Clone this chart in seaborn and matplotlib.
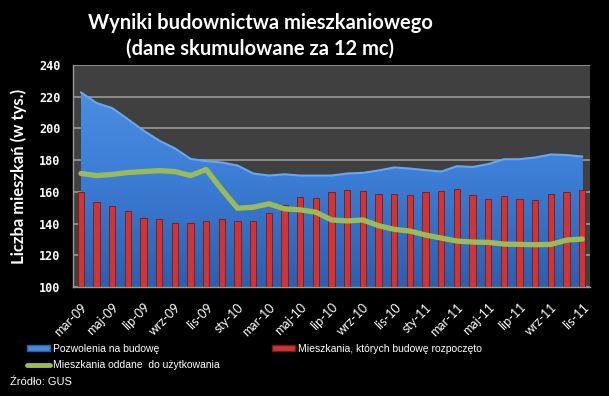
import matplotlib
matplotlib.use("Agg")
import matplotlib.pyplot as plt
import numpy as np
import seaborn as sns
from matplotlib.colors import LinearSegmentedColormap
from matplotlib.lines import Line2D
from matplotlib.patches import Patch

months = [
    "mar-09", "kwi-09", "maj-09", "cze-09", "lip-09", "sie-09", "wrz-09", "paź-09", "lis-09", "gru-09",
    "sty-10", "lut-10", "mar-10", "kwi-10", "maj-10", "cze-10", "lip-10", "sie-10", "wrz-10", "paź-10",
    "lis-10", "gru-10", "sty-11", "lut-11", "mar-11", "kwi-11", "maj-11", "cze-11", "lip-11", "sie-11",
    "wrz-11", "paź-11", "lis-11",
]

# building permits (tys.)
permits = [222.7, 216.0, 212.8, 205.8, 198.6, 192.3, 187.4, 180.8, 179.4, 178.5,
           176.6, 171.6, 170.3, 171.1, 170.3, 170.3, 170.3, 171.6, 172.0, 173.5,
           175.4, 174.7, 173.7, 172.8, 176.2, 175.7, 177.5, 180.6, 180.6, 181.7,
           183.6, 183.2, 182.3]

# dwellings started
starts = [160.0, 153.5, 151.0, 148.0, 143.6, 143.0, 140.4, 140.4, 141.7, 143.0,
          141.7, 141.7, 146.8, 151.9, 157.0, 156.3, 160.0, 161.4, 160.7, 158.6,
          158.8, 158.2, 160.0, 160.7, 162.0, 158.2, 155.7, 157.6, 155.7, 154.8,
          158.6, 160.0, 161.4]

# dwellings completed
completions = [171.6, 170.3, 171.0, 172.2, 172.8, 173.4, 172.8, 170.3, 174.1, 161.4,
               149.7, 150.3, 152.5, 149.3, 148.7, 147.2, 142.3, 141.7, 142.3, 138.7,
               136.4, 135.3, 132.8, 130.9, 129.0, 128.4, 128.2, 127.1, 126.9, 126.7,
               126.9, 129.6, 130.3]

label_permits = "Pozwolenia na budowę"
label_starts = "Mieszkania, których budowę rozpoczęto"
label_completions = "Mieszkania oddane  do użytkowania"

sns.set_style("dark", {"axes.facecolor": "#404040", "figure.facecolor": "black"})
plt.rcParams["font.family"] = ["Lato", "DejaVu Sans"]

fig = plt.figure(figsize=(6.09, 3.96), dpi=100, facecolor="black")
ax = fig.add_axes([0.120, 0.275, 0.849, 0.561])
ax.set_facecolor("#404040")

x = np.arange(len(months))

# blue area with vertical gradient
area = ax.fill_between(x, 100, permits, color="#3f82d8", linewidth=0, zorder=1)
cmap = LinearSegmentedColormap.from_list("blu", ["#2c5fae", "#3c7ed6", "#4f92e4"])
grad = np.linspace(0, 1, 256).reshape(-1, 1)
im = ax.imshow(grad, extent=[0, len(months) - 1, 100, 240], origin="lower",
               cmap=cmap, aspect="auto", zorder=1.5)
im.set_clip_path(area.get_paths()[0], transform=ax.transData)
ax.plot(x, permits, color="#6aa6ee", lw=1.5, zorder=1.6)

sns.barplot(x=months, y=starts, color="#cc3636", saturation=1, width=0.4,
            edgecolor="#7a1818", linewidth=0.6, ax=ax, zorder=3)
sns.lineplot(x=x, y=completions, color="#9bbb59", lw=3.8, ax=ax, zorder=4,
             solid_capstyle="round")

ax.set_xlim(-0.5, len(months) - 0.5)
ax.set_ylim(100, 240)
ax.set_yticks(np.arange(100, 241, 20))
ax.yaxis.grid(True, color="#9a9a9a", lw=1.2, zorder=0)
ax.set_axisbelow(True)

ax.set_xticks(x[::2])
ax.set_xticklabels(months[::2], rotation=45, ha="right", rotation_mode="anchor",
                   color="white", fontsize=9)
ax.set_xticks(np.arange(-0.5, len(months), 1), minor=True)
ax.tick_params(axis="x", which="major", length=0, pad=10)
ax.tick_params(axis="x", which="minor", length=4, color="#9a9a9a", width=1)
ax.tick_params(axis="y", length=3, color="#9a9a9a", labelcolor="white", labelsize=8.5, pad=6)
for lbl in ax.get_yticklabels():
    lbl.set_fontweight("bold")
    lbl.set_family(["DejaVu Sans Mono", "DejaVu Sans"])

for side in ["top", "right"]:
    ax.spines[side].set_visible(False)
for side in ["left", "bottom"]:
    ax.spines[side].set_color("#9a9a9a")
    ax.spines[side].set_linewidth(1)

ax.set_xlabel("")
ax.set_ylabel("Liczba mieszkań (w tys.)", color="white", fontsize=12,
              fontweight="bold", labelpad=9)

fig.text(0.427, 0.943, "Wyniki budownictwa mieszkaniowego", color="white",
         fontsize=14.5, fontweight="bold", ha="center", va="center")
fig.text(0.427, 0.876, "(dane skumulowane za 12 mc)", color="white",
         fontsize=14.5, fontweight="bold", ha="center", va="center")

handles = [
    Patch(facecolor="#4a8ad8", edgecolor="#2a5fa8", label=label_permits),
    Line2D([0], [0], color="#9bbb59", lw=3.5, label=label_completions),
    Patch(facecolor="#cc3636", edgecolor="#7a1818", label=label_starts),
]
fig.legend(handles=handles, loc="upper left", bbox_to_anchor=(0.029, 0.155),
           ncol=2, frameon=False, handlelength=2.2, handleheight=0.5,
           handletextpad=0.25, columnspacing=5.1, labelspacing=0.6,
           labelcolor="white", prop={"family": ["Liberation Sans", "DejaVu Sans"], "size": 7.5})

fig.text(0.016, 0.035, "Źródło: GUS", color="white", fontsize=8,
         family=["Liberation Sans", "DejaVu Sans"], ha="left", va="center")

fig.savefig("out.png", dpi=100, facecolor="black", edgecolor="#808080")
